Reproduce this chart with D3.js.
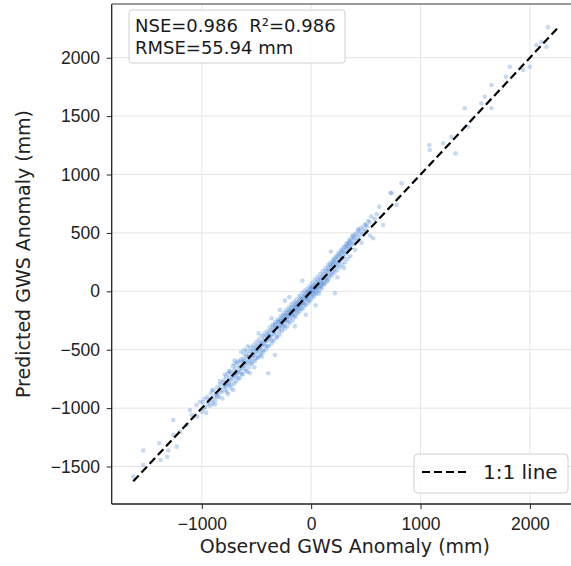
<!DOCTYPE html>
<html>
<head>
<meta charset="utf-8">
<script src="https://cdn.jsdelivr.net/npm/d3@7"></script>
<style>
  body { margin: 0; background: #fff; }
  svg { display: block; font-family: "DejaVu Sans", sans-serif; }
  .axis path, .axis line { stroke: #222; }
  .axis text { fill: #222; font-size: 17.5px; }
  .stat { white-space: pre; }
</style>
</head>
<body>
<svg id="chart" width="571" height="566"></svg>
<script>
// observed vs predicted GWS anomaly (mm)
const observed = [
  -1627, -1536, -1536, -1389, -1377, -1307, -1316, -1230, -1261, -1261, -1200, -1139, -1109, -1093, -1048, -1042, -1017,
  -998, -990, -982, -975, -968, -960, -951, -944, -936, -925, -917, -910, -902, -893, -885, -877, -868, -860, -851, -842, -834, -826, -817, -808,
  -800, -795, -790, -784, -779, -773, -768, -762, -757, -751, -746, -741, -735, -730, -724, -719, -713, -708, -703, -697,
  -692, -686, -681, -676, -670, -665, -659, -654, -648, -643, -637, -632, -627, -621, -616, -610, -605, -600, -594, -589,
  -583, -578, -572, -567, -562, -556, -551, -545, -540, -535, -529, -524, -518, -513, -508, -502, -497, -491, -486, -481,
  -475, -470, -464, -459, -454, -448, -443, -437, -432, -427, -421, -416, -410, -405, -400, -394, -393, -389, -383, -378,
  -373, -367, -362, -356, -351, -346, -340, -335, -332, -329, -324, -319, -313, -308, -302,
  -640, -560, -480, -520, -700, -760, -610, -450, -700, -580, -362, -286,
  -298, -294, -290, -285, -281, -277, -272, -268, -263, -259, -255, -250, -246, -241, -237, -233, -228, -224, -219, -215,
  -211, -206, -202, -197, -193, -189, -184, -180, -175, -171, -167, -162, -158, -153, -149, -145, -140, -136, -132, -127,
  -123, -118, -114, -110, -105, -101, -97, -92, -88, -84, -79, -75, -71, -66, -62, -58, -53, -49, -45, -40,
  -36, -32, -27, -23, -19, -14, -10, -6, -1, 3, 7, 12, 16, 20, 25, 29, 33, 38, 42, 46,
  51, 55, 59, 64, 68, 72, 77, 81, 85, 90, 94, 98,
  -240, -150, -50, 40, -80, -200,
  103, 108, 114, 119, 125, 130, 136, 141, 147, 152, 158, 163, 169, 174, 180, 185, 191, 196, 202, 207,
  213, 217, 219, 224, 230, 236, 241, 247, 252, 258, 263, 269, 275, 280, 286, 292, 298, 303, 309, 315,
  321, 327, 333, 339, 346, 352, 358, 240, 180, 300,
  364, 370, 377, 384, 391, 399, 406, 414, 422, 431, 440, 449, 458, 468, 478, 489, 500, 512, 521, 535,
  550, 567, 580, 600, 622, 658,
  726, 735, 781, 826, 1080, 1085, 1207, 1283, 1320, 1405, 1435, 1557, 1588, 1649, 1649, 1780, 1816, 1938, 1999, 2060,
  2106, 2151, 2166,
  -905, -880, -860, -835, -812, -790, -772, -750, -735, -718, -702, -688, -671, -655, -640, -628, -612, -598, -586, -570,
  -555, -541, -530, -515, -503, -490, -478, -466, -452, -440, -428, -415, -402, -390, -377, -365, -352, -340, -328, -315,
  -303, -290, -278, -266, -254, -242, -230, -218, -206, -194, -182, -170, -158, -146, -134, -122, -110, -98, -86, -74,
  -62, -50, -38, -26, -14, -2, 10, 22, 34, 46, 58, 70, 82, 94, 106, 118, 130, 142, 154, 166,
  178, 190, 202, 214, 226, 238, 250, 262, 274, 286, 298, 310, 322, 334, 346, 358, 380, 400, 430, 460,
  500, 540
];
const predicted = [
  -1585, -1363, -1487, -1301, -1444, -1363, -1416, -1330, -1102, -1230, -1202, -1145, -1016, -1059, -973, -1074, -945,
  -1032, -951, -1005, -920, -990, -1041, -905, -962, -928, -980, -874, -935, -960, -850, -902, -935, -881, -822, -876, -905, -801, -848, -862, -781,
  -822, -760, -808, -845, -731, -790, -812, -702, -770, -795, -738, -690, -760, -801, -712, -745, -845, -680, -726, -701,
  -655, -730, -690, -612, -702, -750, -640, -668, -690, -601, -655, -712, -610, -640, -580, -665, -598, -631, -555, -612,
  -690, -560, -590, -540, -618, -575, -512, -560, -601, -520, -548, -488, -542, -578, -495, -520, -466, -510, -560, -470,
  -498, -442, -481, -530, -438, -462, -505, -420, -450, -395, -468, -430, -381, -425, -470, -372, -702, -401, -355, -410,
  -382, -331, -380, -425, -342, -300, -365, -320, -545, -280, -352, -305, -390, -290, -258,
  -520, -700, -360, -650, -590, -880, -500, -560, -620, -470, -231, -160,
  -320, -262, -305, -345, -248, -290, -270, -230, -301, -255, -212, -275, -240, -295, -200, -248, -222, -185, -250, -210,
  -262, -175, -215, -190, -160, -230, -178, -140, -205, -165, -198, -130, -172, -210, -138, -110, -160, -128, -180, -102,
  -140, -95, -155, -118, -80, -122, -60, -110, -145, -70, -95, -52, -100, -40, -78, -115, -30, -62, -20, -70,
  -45, -5, -50, -12, -80, 10, -25, 25, -8, -40, 30, -5, 42, 8, -30, 55, 20, -10, 60, 30,
  80, 15, 45, 95, 40, -20, 70, 110, 50, 85, 25, 120,
  -80, -300, -200, -120, 90, -50,
  70, 140, 95, 60, 150, 110, 175, 120, 90, 165, 200, 135, 180, 220, 150, 210, 240, 170, 225, 260,
  190, -17, 245, 280, 215, 250, 300, 230, 270, 320, 255, 295, 340, 280, 310, 350, 290, 335, 380, 320,
  365, 400, 345, 385, 420, 370, 410, 120, 340, 200,
  450, 395, 430, 470, 410, 455, 495, 440, 480, 520, 460, 505, 545, 490, 530, 570, 515, 555, 604, 590,
  640, 454, 620, 660, 724, 568,
  844, 839, 739, 925, 1253, 1210, 1267, 1324, 1181, 1567, 1409, 1610, 1666, 1567, 1766, 1837, 1923, 1895, 1923, 2109,
  2137, 2094, 2262,
  -846, -968, -905, -770, -918, -712, -861, -683, -829, -640, -790, -770, -598, -740, -581, -709, -536, -680, -511, -652,
  -482, -622, -462, -597, -437, -571, -412, -548, -384, -521, -362, -500, -341, -470, -309, -448, -287, -420, -262, -395,
  -240, -372, -214, -335, -188, -320, -162, -301, -140, -270, -112, -249, -92, -221, -70, -190, -41, -167, -18, -145,
  4, -118, 22, -97, 47, -71, 72, -49, 101, -21, 124, 5, 150, 36, 174, 62, 196, 85, 226, 110,
  248, 136, 276, 160, 299, 181, 328, 207, 357, 230, 381, 251, 409, 279, 436, 302, 478, 355, 530, 416,
  571, 475
];

const xTicks = [-1000, 0, 1000, 2000];
const yTicks = [-1500, -1000, -500, 0, 500, 1000, 1500, 2000];
const xDomain = [-1824, 2440];
const yDomain = [-1821, 2460];
const lineEnds = [-1627, 2262];
const statLines = ["NSE=0.986  R\u00b2=0.986", "RMSE=55.94 mm"];

const margin = { top: 4, left: 111.7 };
const width = 466.3;
const height = 500;

const svg = d3.select('#chart');
const g = svg.append('g')
  .attr('transform', 'translate(' + margin.left + ',' + margin.top + ')');

const x = d3.scaleLinear().domain(xDomain).range([0, width]);
const y = d3.scaleLinear().domain(yDomain).range([height, 0]);

g.append('clipPath').attr('id', 'plotclip')
  .append('rect').attr('width', width).attr('height', height);

// grid
g.append('g').selectAll('line')
  .data(xTicks).enter().append('line')
  .attr('x1', d => x(d)).attr('x2', d => x(d))
  .attr('y1', 0).attr('y2', height)
  .attr('stroke', '#e5e5e5').attr('stroke-width', 1);
g.append('g').selectAll('line')
  .data(yTicks).enter().append('line')
  .attr('y1', d => y(d)).attr('y2', d => y(d))
  .attr('x1', 0).attr('x2', width)
  .attr('stroke', '#e5e5e5').attr('stroke-width', 1);

// points
const pts = observed.map((o, i) => ({ o: o, p: predicted[i] }));
g.append('g').attr('clip-path', 'url(#plotclip)')
  .selectAll('circle')
  .data(pts).enter().append('circle')
  .attr('cx', d => x(d.o))
  .attr('cy', d => y(d.p))
  .attr('r', 2.3)
  .attr('fill', '#2a74d2')
  .attr('fill-opacity', 0.27);

// 1:1 line
g.append('line')
  .attr('x1', x(lineEnds[0])).attr('y1', y(lineEnds[0]))
  .attr('x2', x(lineEnds[1])).attr('y2', y(lineEnds[1]))
  .attr('stroke', '#000').attr('stroke-width', 2.2)
  .attr('stroke-dasharray', '8,4');

// axes
const fmt = d3.format('d');
g.append('g').attr('class', 'axis x')
  .attr('transform', 'translate(0,' + height + ')')
  .call(d3.axisBottom(x).tickValues(xTicks).tickFormat(fmt).tickSize(5).tickPadding(9).tickSizeOuter(0))
  .call(a => a.select('.domain').remove());
g.append('g').attr('class', 'axis y')
  .call(d3.axisLeft(y).tickValues(yTicks).tickFormat(fmt).tickSize(5).tickPadding(6.7).tickSizeOuter(0))
  .call(a => a.select('.domain').remove());

// frame
g.append('line').attr('x1', 0).attr('x2', 0).attr('y1', 0).attr('y2', height).attr('stroke', '#222').attr('stroke-width', 1.3);
g.append('line').attr('x1', 0).attr('x2', width).attr('y1', height).attr('y2', height).attr('stroke', '#222').attr('stroke-width', 1.3);
g.append('line').attr('x1', 0).attr('x2', width).attr('y1', 0).attr('y2', 0).attr('stroke', '#777').attr('stroke-width', 1.5);
g.append('line').attr('x1', width).attr('x2', width).attr('y1', 0).attr('y2', height).attr('stroke', '#222').attr('stroke-width', 1.3);

// axis titles
svg.append('text')
  .attr('x', margin.left + width / 2).attr('y', 553)
  .attr('text-anchor', 'middle').attr('font-size', 19).attr('fill', '#222')
  .text('Observed GWS Anomaly (mm)');
svg.append('text')
  .attr('transform', 'translate(30,' + (margin.top + height / 2) + ') rotate(-90)')
  .attr('text-anchor', 'middle').attr('font-size', 19).attr('fill', '#222')
  .text('Predicted GWS Anomaly (mm)');

// stats box
svg.append('rect')
  .attr('x', 129).attr('y', 10).attr('width', 216).attr('height', 53).attr('rx', 3)
  .attr('fill', '#fff').attr('fill-opacity', 0.85).attr('stroke', '#d0d0d0');
svg.selectAll('text.stat')
  .data(statLines).enter().append('text')
  .attr('class', 'stat')
  .attr('x', 135).attr('y', (d, i) => 32 + i * 22)
  .attr('font-size', 18).attr('fill', '#1a1a1a')
  .text(d => d);

// legend
const leg = svg.append('g');
leg.append('rect')
  .attr('x', 414).attr('y', 454).attr('width', 154).attr('height', 39).attr('rx', 4)
  .attr('fill', '#fff').attr('fill-opacity', 0.85).attr('stroke', '#d0d0d0');
leg.append('line')
  .attr('x1', 422).attr('x2', 466).attr('y1', 472).attr('y2', 472)
  .attr('stroke', '#000').attr('stroke-width', 2.2).attr('stroke-dasharray', '8,4');
leg.append('text')
  .attr('x', 483).attr('y', 479)
  .attr('font-size', 20).attr('fill', '#1a1a1a')
  .text('1:1 line');
</script>
</body>
</html>
